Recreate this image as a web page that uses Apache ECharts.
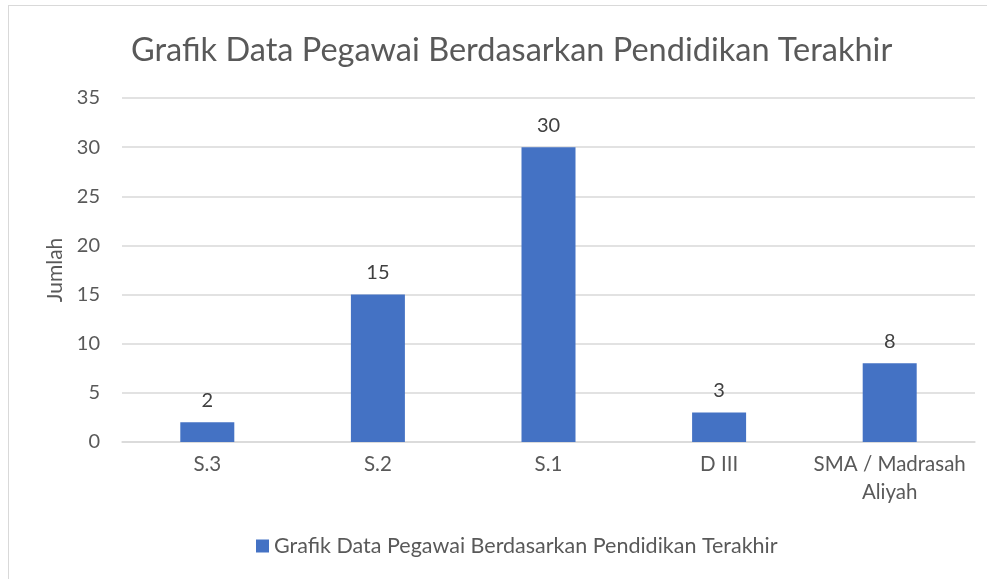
<!DOCTYPE html>
<html>
<head>
<meta charset="utf-8">
<script src="https://cdn.jsdelivr.net/npm/echarts@6/dist/echarts.min.js"></script>
<style>
  html, body { margin: 0; padding: 0; background: #fff; }
  #frame { position: absolute; left: 8px; top: 5px; width: 990px; height: 590px; border: 1.5px solid #d9d9d9; box-sizing: border-box; }
  #chart { position: absolute; left: 0; top: 0; width: 987px; height: 579px; }
</style>
</head>
<body>
<div id="frame"></div>
<div id="chart"></div>
<script>
const titleText = 'Grafik Data Pegawai Berdasarkan Pendidikan Terakhir';
const categories = ['S.3', 'S.2', 'S.1', 'D III', 'SMA / Madrasah\nAliyah'];
const values = [2, 15, 30, 3, 8];
const yMin = 0, yMax = 35, yStep = 5;

const textColor = '#595959';
const font = 'Lato';

const chart = echarts.init(document.getElementById('chart'));
chart.setOption({
    backgroundColor: 'transparent',
    textStyle: { fontFamily: font },
    title: {
        text: titleText,
        left: 126,
        top: 29,
        textStyle: { color: textColor, fontSize: 32.5, fontWeight: 'normal', fontFamily: font }
    },
    grid: { left: 122, right: 12, top: 98, bottom: 137 },
    legend: {
        bottom: 17,
        left: 251,
        icon: 'rect',
        itemWidth: 13,
        itemHeight: 13,
        itemGap: 4,
        textStyle: { color: textColor, fontSize: 21.5, fontFamily: font }
    },
    xAxis: {
        type: 'category',
        data: categories,
        axisLine: { show: true, lineStyle: { color: '#d9d9d9', width: 1.5 } },
        axisTick: { show: false },
        axisLabel: { interval: 0, color: textColor, fontSize: 20.5, margin: 8, lineHeight: 28, fontFamily: font }
    },
    yAxis: {
        type: 'value',
        min: yMin,
        max: yMax,
        interval: yStep,
        name: 'Jumlah',
        nameLocation: 'middle',
        nameGap: 54,
        nameTextStyle: { color: textColor, fontSize: 21, fontFamily: font },
        axisLine: { show: false },
        axisTick: { show: false },
        axisLabel: { color: textColor, fontSize: 20, margin: 22, fontFamily: font },
        splitLine: { lineStyle: { color: '#d9d9d9', width: 1.5 } }
    },
    series: [{
        name: titleText,
        type: 'bar',
        data: values,
        barWidth: 54,
        itemStyle: { color: '#4472C4' },
        label: {
            show: true,
            position: 'top',
            distance: 12,
            color: '#404040',
            fontSize: 20,
            fontFamily: font
        }
    }]
});
</script>
</body>
</html>
